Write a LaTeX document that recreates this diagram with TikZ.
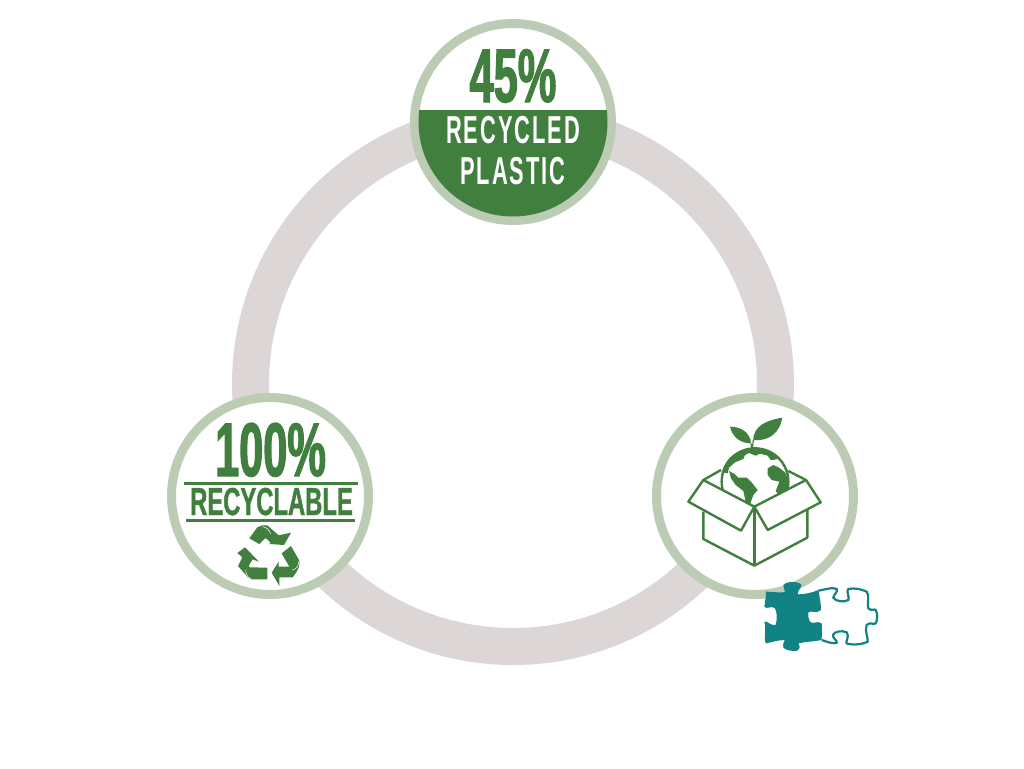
\documentclass[tikz,border=0pt]{standalone}
\usepackage{fontspec}
\newfontfamily\condfont[FakeStretch=0.57,FakeBold=1.5]{Liberation Sans}
\newfontfamily\spacedfont[FakeStretch=0.56,LetterSpace=5]{Liberation Sans}
\newfontfamily\tightfont[FakeStretch=0.61,FakeBold=1]{Liberation Sans}
\definecolor{leafgreen}{HTML}{417F3E}
\definecolor{palegreen}{HTML}{BCCBB3}
\definecolor{ringgray}{HTML}{DCD7D6}
\definecolor{puzzleteal}{HTML}{128385}

\begin{document}
\begin{tikzpicture}[x=1pt,y=-1pt,
  main node/.style={circle,draw=palegreen,fill=white,line width=9pt,minimum size=197pt,inner sep=0pt},
  big label/.style={anchor=base,inner sep=0pt,text=leafgreen,font=\condfont\fontsize{76}{76}\selectfont\bfseries},
  small label/.style={anchor=base,inner sep=0pt,font=\spacedfont\fontsize{39}{39}\selectfont\bfseries},
  icon line/.style={draw=leafgreen,line width=2.4pt,line join=round},
  icon fill/.style={fill=leafgreen},
  fold line/.style={draw=white,line width=.5pt}]

  \useasboundingbox (0,0) rectangle (1024,768);
  \fill[white] (0,0) rectangle (1024,768);

  \draw[ringgray,line width=37pt] (513,384) circle [radius=262.5pt];

  \node[main node] (top) at (513,122) {};
  \node[main node] (left) at (270,496) {};
  \node[main node] (right) at (755,496) {};

  % top badge
  \begin{scope}
    \clip (513,122) circle [radius=94.5pt];
    \fill[leafgreen] (410,110) rectangle (616,226);
  \end{scope}
  \node[big label] (pct) at (513,102) {45\%};
  \node[small label,text=white] (rec) at (513,143) {RECYCLED};
  \node[small label,text=white] (pla) at (513,184.5) {PLASTIC};

  % left badge
  \node[big label] (full) at (270.5,476) {100\%};
  \node[small label,text=leafgreen,font=\tightfont\fontsize{39}{39}\selectfont\bfseries] (able) at (271.5,515) {RECYCLABLE};
  \coordinate (a1) at (184,483);
  \coordinate (a2) at (358,483);
  \coordinate (b1) at (186,520);
  \coordinate (b2) at (355,520);
  \draw[leafgreen,line width=3pt] (a1) -- (a2);
  \draw[leafgreen,line width=3pt] (b1) -- (b2);

  \begin{scope}[shift={(230,520)},scale=1/3]
    \path[icon fill] (58,55) -- (82,22) .. controls (90,16) and (100,15) .. (112,16) -- (146,46)
      -- (183,38) -- (162,75) -- (118,72) -- (122,68) -- (110,56) .. controls (108,54) and (106,54) .. (104,56)
      -- (88,72) -- cycle;
    \path[icon fill] (22,99) -- (45,82) -- (87,125) -- (68,118) -- (58,134)
      .. controls (56,140) and (57,142) .. (60,142) -- (112,143) -- (112,178) -- (65,178)
      .. controls (55,176) and (50,170) .. (46,163) -- (24,138) -- (37,112) -- cycle;
    \path[icon fill] (125,158) -- (146,125) -- (146,140) -- (178,140) -- (155,100) -- (183,78) -- (208,122)
      .. controls (210,135) and (205,148) .. (198,158) -- (188,172) -- (148,172) -- (148,198) -- cycle;
    \draw[fold line] (98,20) .. controls (110,22) and (118,30) .. (122,42);
    \draw[fold line] (48,148) .. controls (46,160) and (52,172) .. (62,176);
    \draw[fold line] (206,125) .. controls (206,140) and (198,148) .. (186,150);
  \end{scope}

  % right badge
  \begin{scope}[shift={(645,385)},scale=1/3]
    \begin{scope}
      \clip (175,285) -- (328,365) -- (483,285) -- (483,80) -- (175,80) -- cycle;
      \draw[icon line] (330,290) circle [radius=100pt];
      \path[icon fill] (232,262) .. controls (240,215) and (285,190) .. (330,188)
        .. controls (360,188) and (385,200) .. (398,222) -- (378,226) -- (368,212) -- (345,206)
        -- (332,212) -- (312,204) -- (300,210) -- (295,222) -- (270,232) -- (252,248) -- (248,265) -- cycle;
      \path[icon fill] (252,258) -- (270,268) -- (280,278) -- (305,278) -- (322,295) -- (338,315)
        -- (325,330) -- (315,358) -- (302,350) -- (295,318) -- (272,300) -- (258,280) -- cycle;
      \path[icon fill] (368,250) -- (385,240) -- (402,248) -- (420,262) -- (430,285) -- (428,312)
        -- (400,328) -- (392,318) -- (403,290) -- (380,285) -- (368,270) -- cycle;
    \end{scope}
    \draw[icon line] (228,255) -- (175,285) -- (328,365) -- (483,285) -- (430,258);
    \draw[icon line] (175,285) -- (130,350) -- (288,437) -- (328,365) -- (368,435) -- (527,352) -- (483,285);
    \draw[icon line] (175,380) -- (175,462) -- (328,542) -- (487,458) -- (487,375);
    \draw[icon line] (328,365) -- (328,542);
    % sprout
    \path[icon fill] (255,125) .. controls (285,125) and (315,140) .. (318,175)
      .. controls (285,175) and (262,155) .. (255,125) -- cycle;
    \path[icon fill] (325,165) .. controls (325,120) and (370,105) .. (412,98)
      .. controls (405,140) and (375,170) .. (325,165) -- cycle;
    \draw[leafgreen,line width=1.2pt] (318,175) -- (320,190);
    \draw[leafgreen,line width=1.2pt] (325,165) -- (322,190);
  \end{scope}

  % puzzle pieces
  \begin{scope}[shift={(755,575)},scale=1/3]
    \draw[puzzleteal,line width=2.2pt,fill=white] (190,47) .. controls (205,45) and (235,35) .. (245,42)
      .. controls (250,50) and (235,60) .. (235,68) .. controls (240,80) and (270,82) .. (280,75)
      .. controls (285,65) and (272,50) .. (280,42) .. controls (295,38) and (320,42) .. (335,50)
      .. controls (345,60) and (335,90) .. (340,100) .. controls (350,110) and (360,100) .. (362,105)
      .. controls (368,115) and (368,135) .. (362,145) .. controls (355,150) and (345,140) .. (335,150)
      .. controls (328,165) and (340,190) .. (338,200) .. controls (320,210) and (285,210) .. (275,205)
      .. controls (270,200) and (285,185) .. (275,172) .. controls (260,165) and (240,170) .. (235,178)
      .. controls (230,190) and (248,195) .. (245,203) .. controls (235,208) and (215,200) .. (200,195);
    \fill[puzzleteal] (85,30) .. controls (95,18) and (130,18) .. (140,30)
      .. controls (135,45) and (125,50) .. (130,58) .. controls (160,58) and (190,45) .. (190,45)
      .. controls (195,70) and (198,90) .. (198,105) .. controls (185,118) and (170,105) .. (160,112)
      .. controls (160,130) and (160,130) .. (165,140) .. controls (175,150) and (185,135) .. (200,145)
      .. controls (202,165) and (200,180) .. (200,195) .. controls (175,200) and (150,200) .. (130,205)
      .. controls (135,215) and (137,220) .. (125,228) .. controls (115,228) and (95,228) .. (85,218)
      .. controls (82,205) and (90,195) .. (90,195) .. controls (65,195) and (40,205) .. (32,205)
      .. controls (25,190) and (35,170) .. (28,140) .. controls (35,135) and (50,155) .. (62,150)
      .. controls (68,130) and (65,110) .. (60,100) .. controls (50,90) and (35,105) .. (28,95)
      .. controls (30,75) and (35,60) .. (32,50) .. controls (50,50) and (85,55) .. (90,50)
      .. controls (88,42) and (85,35) .. (85,30) -- cycle;
  \end{scope}
\end{tikzpicture}
\end{document}
